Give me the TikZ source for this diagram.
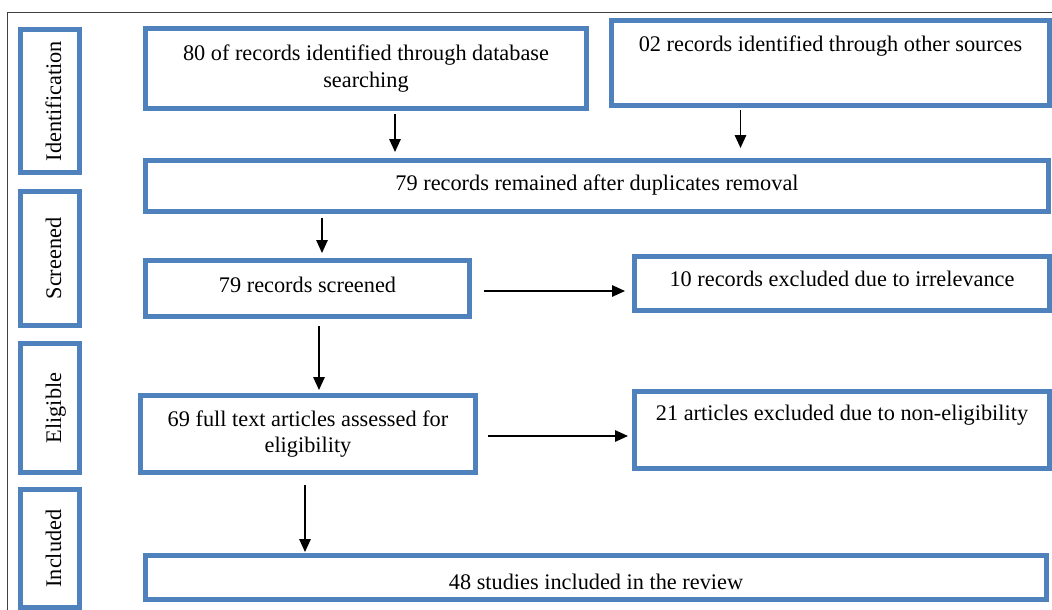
\documentclass[tikz,border=0pt]{standalone}
\usepackage{fontspec}
\setmainfont{Liberation Serif}
\usetikzlibrary{arrows.meta}
\definecolor{boxblue}{RGB}{79,129,189}
\definecolor{framegray}{RGB}{64,64,64}
\begin{document}
\begin{tikzpicture}[x=1pt,y=-1pt,
  box/.style={draw=boxblue, line width=5pt, fill=white, inner sep=0pt,
    align=center, font=\fontsize{22.3}{26.5}\selectfont},
  tx/.style 2 args={text height=#1pt, text depth=#2pt},
  side/.style={box, rotate=90, minimum height=59pt, text height=22pt, text depth=0pt},
  arr/.style={draw=black, line width=1.5pt, -{Triangle[length=13pt,width=11.5pt]}}]

\useasboundingbox (0,0) rectangle (1052,610);
\clip (0,0) rectangle (1052,610);

% outer frame
\draw[framegray, line width=1pt] (7,13) rectangle (1090,650);

% stage labels
\node[side, minimum width=143pt] (sI) at (50,101)   {Identification};
\node[side, minimum width=134pt] (sS) at (50,258.5) {Screened};
\node[side, minimum width=129pt] (sE) at (50,408)   {Eligible};
\node[side, minimum width=118pt] (sN) at (50,548.5) {Included};

% flow boxes
\node[box, minimum width=441pt, minimum height=80pt] (A) at (366,68.5)
  {80 of records identified through database\\searching};
\node[box, tx={15.5}{37.5}, minimum width=438pt, minimum height=85pt] (B) at (830.5,63)
  {02 records identified through other sources};
\node[box, tx={15.5}{7.5}, minimum width=903pt, minimum height=51pt] (C) at (597,186)
  {79 records remained after duplicates removal};
\node[box, tx={15.5}{8.5}, minimum width=324pt, minimum height=56pt] (D) at (307.5,288.5)
  {79 records screened};
\node[box, minimum width=335pt, minimum height=77pt] (E) at (308,434)
  {69 full text articles assessed for\\eligibility};
\node[box, tx={15.5}{10.5}, minimum width=415pt, minimum height=54pt] (F) at (842,283.5)
  {10 records excluded due to irrelevance};
\node[box, tx={15.5}{35.5}, minimum width=415pt, minimum height=77pt] (G) at (842,430)
  {21 articles excluded due to non-eligibility};
\node[box, tx={23}{0}, minimum width=901pt, minimum height=44pt] (H) at (596,577.5)
  {48 studies included in the review};

% connectors
\draw[arr, shorten <=3pt, shorten >=6pt] ([xshift=29pt]A.south) -- ([xshift=29pt]A.south |- C.north);
\draw[arr, shorten <=2pt, shorten >=10pt] ([xshift=-90pt]B.south) -- ([xshift=-90pt]B.south |- C.north);
\draw[arr, shorten <=4pt, shorten >=5pt] ([xshift=14.5pt]D.north |- C.south) -- ([xshift=14.5pt]D.north);
\draw[arr, shorten <=7pt, shorten >=3pt] ([xshift=11.5pt]D.south) -- ([xshift=11.5pt]D.south |- E.north);
\draw[arr, shorten <=12pt, shorten >=7pt] ([yshift=-2.5pt]D.east) -- ([yshift=-2.5pt]D.east -| F.west);
\draw[arr, shorten <=10pt, shorten >=4pt] ([yshift=-2pt]E.east) -- ([yshift=-2pt]E.east -| G.west);
\draw[arr, shorten <=10pt, shorten >=1pt] ([xshift=-3pt]E.south) -- ([xshift=-3pt]E.south |- H.north);
\end{tikzpicture}
\end{document}
